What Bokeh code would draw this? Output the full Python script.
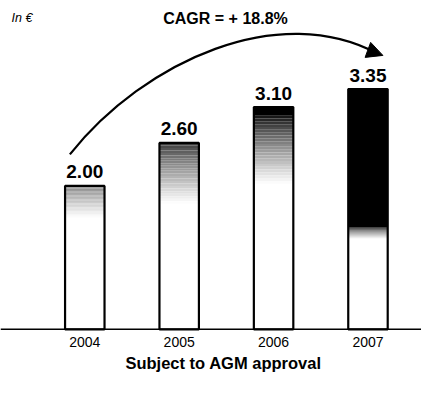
from bokeh.plotting import figure
from bokeh.models import Range1d, Span, Label, Arrow, NormalHead, ColumnDataSource
from bokeh.core.properties import value
from bokeh.embed import file_html
from bokeh.resources import INLINE

# ---- data ----
years = ["2004", "2005", "2006", "2007"]
dividends = [2.00, 2.60, 3.10, 3.35]
value_labels = ["2.00", "2.60", "3.10", "3.35"]
cagr_text = "CAGR = + 18.8%"
unit_text = "In €"
footnote = "Subject to AGM approval"

xs = list(range(len(years)))
BAR_W = 0.418

p = figure(width=421, height=397, output_backend="svg", toolbar_location=None,
           x_range=Range1d(-0.893, 3.567), y_range=Range1d(-0.951, 4.586),
           min_border=0, min_border_left=0, min_border_right=0,
           min_border_top=0, min_border_bottom=0)
p.axis.visible = False
p.grid.visible = False
p.outline_line_color = None
p.background_fill_color = "white"

# ---- shaded tops (gradient from dark at top to white) ----
# per bar: (gray at top 0=black..1=white, solid-black depth, fade depth) in value units
shading = [(0.5, 0.0, 0.45), (0.2, 0.0, 0.85), (0.05, 0.12, 0.95), (0.0, 1.93, 0.16)]
N = 24
ql, qr, qt, qb, qc = [], [], [], [], []
for x, v, (g0, solid, fade) in zip(xs, dividends, shading):
    if solid > 0:
        ql.append(x - BAR_W / 2); qr.append(x + BAR_W / 2)
        qt.append(v); qb.append(v - solid); qc.append("#000000")
    top = v - solid
    for k in range(N):
        t0 = k / N
        t1 = (k + 1) / N
        g = g0 + (1 - g0) * (((t0 + t1) / 2) ** 0.8)
        c = int(round(255 * g))
        ql.append(x - BAR_W / 2); qr.append(x + BAR_W / 2)
        qt.append(top - fade * t0); qb.append(top - fade * t1)
        qc.append("#%02x%02x%02x" % (c, c, c))
p.quad(left=ql, right=qr, top=qt, bottom=qb, fill_color=qc, line_color=None)

src = ColumnDataSource(dict(x=xs, top=dividends, lab=value_labels, yr=years,
                            zero=[0] * len(xs)))
p.vbar(x="x", top="top", bottom=0, width=BAR_W, source=src,
       fill_color=None, line_color="black", line_width=2.2)

p.add_layout(Span(location=0, dimension="width", line_color="black", line_width=1.5))

p.text(x="x", y="top", text="lab", source=src, text_align="center",
       text_baseline="middle", y_offset=-14,
       text_font=value("Liberation Sans"), text_font_style="bold",
       text_font_size="19px", text_color="black")

p.text(x="x", y="zero", text="yr", source=src, text_align="center",
       text_baseline="middle", y_offset=12.5,
       text_font=value("Liberation Sans"), text_font_size="14px", text_color="black")

# ---- CAGR arc with arrow head ----
x0, y0 = xs[0] - 0.158, dividends[0] + 0.44
x3, y3 = xs[3] + 0.158, dividends[3] + 0.47
p.bezier(x0=[x0], y0=[y0], x1=[x3 - 0.05], y1=[y3 + 0.02],
         cx0=[0.638], cy0=[3.753], cx1=[2.066], cy1=[4.584],
         line_color="black", line_width=2.2)
p.add_layout(Arrow(end=NormalHead(size=16, fill_color="black", line_color="black"),
                   x_start=x3 - 0.35, y_start=y3 + 0.17, x_end=x3, y_end=y3,
                   line_width=0, line_color="black"))

# ---- texts ----
p.add_layout(Label(x=225, y=379, x_units="screen", y_units="screen", text=cagr_text,
                   text_align="center", text_baseline="middle",
                   text_font="Liberation Sans", text_font_style="bold",
                   text_font_size="16px", text_color="black"))
p.add_layout(Label(x=11, y=380, x_units="screen", y_units="screen", text=unit_text,
                   text_align="left", text_baseline="middle",
                   text_font="Liberation Sans", text_font_style="italic",
                   text_font_size="12.5px", text_color="black"))
p.add_layout(Label(x=223, y=35, x_units="screen", y_units="screen", text=footnote,
                   text_align="center", text_baseline="middle",
                   text_font="Liberation Sans", text_font_style="bold",
                   text_font_size="16.5px", text_color="black"))

open("out.html", "w").write(file_html(p, INLINE))
